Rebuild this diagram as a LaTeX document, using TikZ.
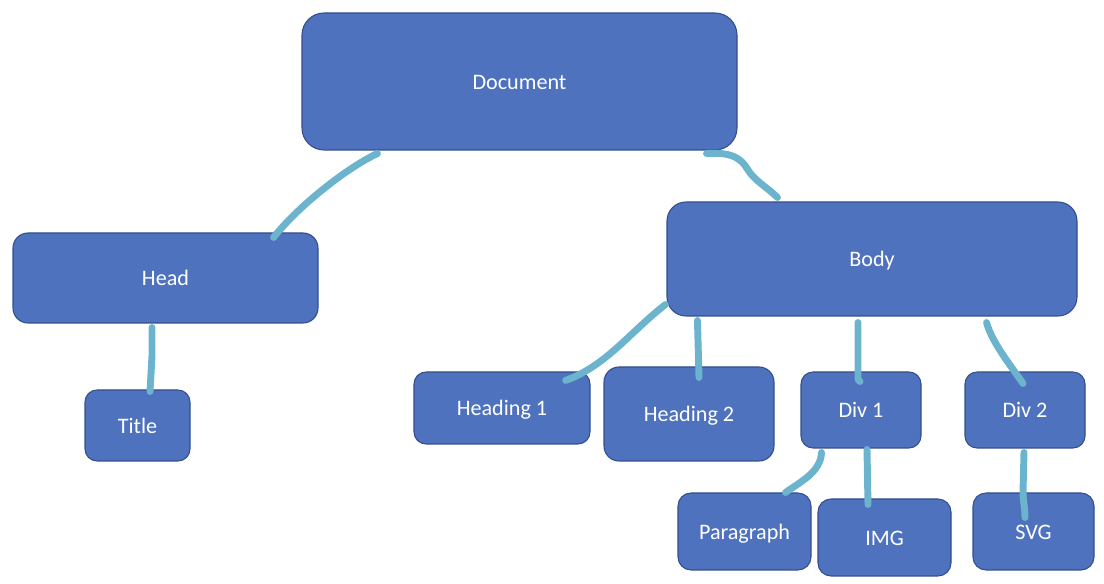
\documentclass[tikz,border=0pt]{standalone}
\usepackage{fontspec}
\setmainfont{Carlito}
\usepackage{tikz}
\usetikzlibrary{calc,positioning}
\definecolor{boxfill}{RGB}{79,114,190}
\definecolor{boxline}{RGB}{50,78,140}
\definecolor{linkcol}{RGB}{108,180,206}
\tikzset{
  box/.style n args={3}{draw=boxline, fill=boxfill, line width=0.8pt, text=white,
    rounded corners=#3*0.75pt, minimum width=#1*0.75pt, minimum height=#2*0.75pt,
    inner sep=0pt, text height=11.7pt, text depth=0pt, font=\fontsize{16.6}{20}\selectfont},
  link/.style={draw=linkcol, line width=5.2pt, line cap=round, line join=round},
}
\begin{document}
\begin{tikzpicture}[x=0.75pt,y=0.75pt,yscale=-1,xscale=1]
\useasboundingbox (0,0) rectangle (1104,584);

%Rounded Rect [id:doc]
\node [box={435}{137}{22}] (doc) at (519.5,81.5) {Document};
%Rounded Rect [id:head]
\node [box={305}{90}{15}] (head) at (165.5,278) {Head};
%Rounded Rect [id:title]
\node [box={105}{71}{12}] (title) at (137.5,425.5) {Title};
%Rounded Rect [id:body]
\node [box={410}{114}{19}] (body) at (872,259) {Body};
%Rounded Rect [id:heading1]
\node [box={176}{72}{12}] (heading1) at (502,408) {Heading 1};
%Rounded Rect [id:heading2]
\node [box={170}{94}{15}] (heading2) at (689,414) {Heading 2};
%Rounded Rect [id:div1]
\node [box={120}{76}{12}] (div1) at (861,410) {Div 1};
%Rounded Rect [id:div2]
\node [box={120}{76}{12}] (div2) at (1025,410) {Div 2};
%Rounded Rect [id:para]
\node [box={133}{77}{13}] (para) at (744.5,531.5) {Paragraph};
%Rounded Rect [id:img]
\node [box={133}{77}{13}] (img) at (884.5,537.5) {IMG};
%Rounded Rect [id:svg]
\node [box={121}{77}{13}] (svg) at (1033.5,531.5) {SVG};

%Curve Lines [doc - head]
\draw [link] ($(doc.south west)+(76,3)$) .. controls (350,166) and (300,204) .. ($(head.north east)+(-45,5)$);
%Curve Lines [doc - body]
\draw [link] ($(doc.south east)+(-31,3)$) .. controls (732,152) and (741,158) .. (748,170)
  .. controls (755,181) and (768,188) .. ($(body.north west)+(111,-4)$);
%Straight Lines [head - title]
\draw [link] ($(head.south)+(-13.5,4)$) -- (152,356) -- ($(title.north)+(12.5,2)$);
%Curve Lines [body - heading1]
\draw [link] ($(body.south west)+(-1,-12)$) .. controls (630,332) and (606,366) .. ($(heading1.north east)+(-25,9)$);
%Straight Lines [body - heading2]
\draw [link] ($(body.south west)+(31,4)$) -- ($(heading2.north)+(10,11)$);
%Curve Lines [body - div1]
\draw [link] ($(body.south)+(-14,6)$) -- (858,376) .. controls (858,380) .. ($(div1.north)+(-1,10)$);
%Curve Lines [body - div2]
\draw [link] ($(body.south east)+(-91,6)$) .. controls (992,342) and (1008,362) .. ($(div2.north)+(-2,12)$);
%Curve Lines [div1 - para]
\draw [link] ($(div1.south west)+(21,4)$) .. controls (821,472) and (800,482) .. ($(para.north east)+(-26,0)$);
%Straight Lines [div1 - img]
\draw [link] ($(div1.south)+(6,1)$) -- ($(img.north)+(-16.5,6)$);
%Curve Lines [div2 - svg]
\draw [link] ($(div2.south)+(-1,4)$) -- (1023,492) .. controls (1023,500) and (1025,508) .. ($(svg.north)+(-8.5,25)$);

\end{tikzpicture}
\end{document}
